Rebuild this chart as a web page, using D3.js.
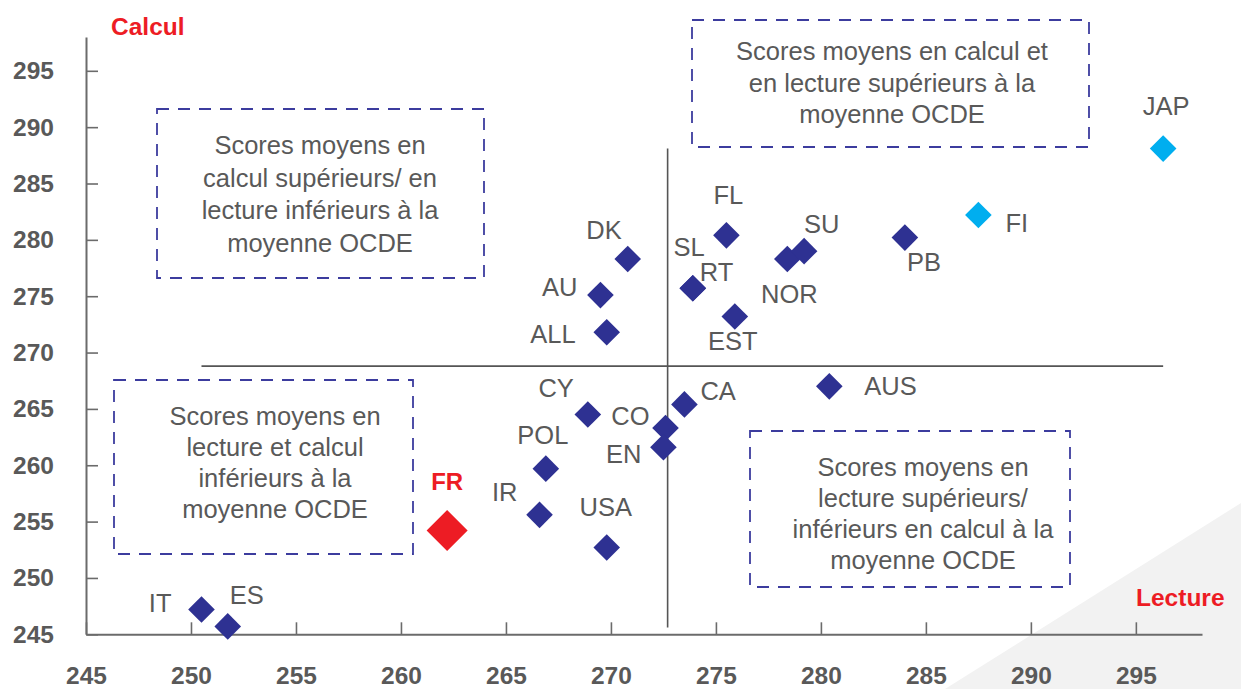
<!DOCTYPE html>
<html>
<head>
<meta charset="utf-8">
<script src="https://cdn.jsdelivr.net/npm/d3@7"></script>
<style>
  html, body { margin: 0; padding: 0; background: #ffffff; }
  svg { display: block; font-family: "Liberation Sans", Arial, Helvetica, sans-serif; }
</style>
</head>
<body>
<svg id="chart" width="1241" height="689"></svg>
<script>
// Mean scores per country: reading (Lecture) vs. mathematics (Calcul)
const countries = ["IT", "ES", "FR", "IR", "POL", "USA", "CY", "CO", "EN", "CA", "DK", "AU", "ALL",
                   "SL", "RT", "FL", "EST", "NOR", "SU", "PB", "FI", "AUS", "JAP"];
const lecture = [250.5, 251.75, 262.2, 266.6, 266.9, 269.8, 268.9, 272.6, 272.5, 273.5, 270.8, 269.5, 269.8,
                 273.9, 273.9, 275.5, 275.9, 278.4, 279.2, 284.0, 287.5, 280.4, 296.3];
const calcul  = [247.2, 245.7, 254.2, 255.6, 259.7, 252.7, 264.5, 263.3, 261.6, 265.4, 278.3, 275.1, 271.8,
                 275.7, 275.7, 280.4, 273.2, 278.3, 279.0, 280.2, 282.2, 267.0, 288.1];
const groups  = ["autre", "autre", "france", "autre", "autre", "autre", "autre", "autre", "autre", "autre", "autre", "autre", "autre",
                 "autre", "autre", "autre", "autre", "autre", "autre", "autre", "tete", "autre", "tete"];

// OECD averages
const moyenneLecture = 272.7;
const moyenneCalcul = 268.8;

// Axis ticks
const ticksLecture = [245, 250, 255, 260, 265, 270, 275, 280, 285, 290, 295];
const ticksCalcul = [245, 250, 255, 260, 265, 270, 275, 280, 285, 290, 295];

// Quadrant captions
const quadrantTexts = [
  ["Scores moyens en calcul et", "en lecture supérieurs à la", "moyenne OCDE"],
  ["Scores moyens en", "calcul supérieurs/ en", "lecture inférieurs à la", "moyenne OCDE"],
  ["Scores moyens en", "lecture et calcul", "inférieurs à la", "moyenne OCDE"],
  ["Scores moyens en", "lecture supérieurs/", "inférieurs en calcul à la", "moyenne OCDE"]
];

// ---- layout & style ----
const quadrantBoxes = [
  { x: 692, y: 20,  w: 397, h: 127, cx: 892, base: 60,  step: 31.7 },
  { x: 157, y: 109, w: 327, h: 169, cx: 320, base: 154, step: 32.5 },
  { x: 114, y: 380, w: 299, h: 174, cx: 275, base: 425, step: 31.1 },
  { x: 750, y: 431, w: 320, h: 156, cx: 923, base: 476, step: 31 }
];

// label placement relative to each marker: [dx, dy, anchor]
const labelPlacement = {
  IT: [-30, 2, "end"], ES: [2, -22, "start"], FR: [0, -41, "middle"], IR: [-22, -14, "end"],
  POL: [-3, -25, "middle"], USA: [-1, -32, "middle"], CY: [-14, -18, "end"], CO: [-16, -3, "end"],
  EN: [-22, 16, "end"], CA: [16, -4, "start"], DK: [-6, -20, "end"], AU: [-23, 1, "end"],
  ALL: [-31, 11, "end"], SL: [12, -32, "end"], RT: [7, -7, "start"], FL: [2, -31, "middle"],
  EST: [-2, 34, "middle"], NOR: [2, 44, "middle"], SU: [0, -18, "start"], PB: [2, 33, "start"],
  FI: [27, 17, "start"], AUS: [35, 9, "start"], JAP: [3, -34, "middle"]
};

const colors = { autre: "#2e3192", france: "#ed1c24", tete: "#00aeef" };
const symbolSizes = { autre: 354, france: 841, tete: 354 };
const textGray = "#595959";

const svg = d3.select("#chart");

// light corner shading at bottom right
svg.append("path")
  .attr("d", "M945,689 L1241,503 L1241,689 Z")
  .attr("fill", "#f2f2f2");

const x = d3.scaleLinear().domain([245, 298.15]).range([86, 1202]);
const y = d3.scaleLinear().domain([245, 298]).range([634.3, 37]);

const data = countries.map((c, i) => ({ pays: c, lecture: lecture[i], calcul: calcul[i], groupe: groups[i] }));

// axes
const xAxis = d3.axisBottom(x).tickValues(ticksLecture).tickFormat(d3.format("d"))
  .tickSizeInner(-12).tickSizeOuter(0).tickPadding(32);
const yAxis = d3.axisLeft(y).tickValues(ticksCalcul).tickFormat(d3.format("d"))
  .tickSizeInner(-12).tickSizeOuter(0).tickPadding(32);

const gx = svg.append("g").attr("transform", `translate(0,${y(245)})`).call(xAxis);
const gy = svg.append("g").attr("transform", `translate(${x(245)},0)`).call(yAxis);

[gx, gy].forEach(g => {
  g.select(".domain").attr("stroke", "#6b6b6b").attr("stroke-width", 2);
  g.selectAll(".tick line").attr("stroke", "#6b6b6b").attr("stroke-width", 1.6);
  g.selectAll(".tick text")
    .attr("fill", textGray)
    .style("font-size", "24.5px")
    .style("font-weight", "bold")
    .style("font-family", "'Liberation Sans', Arial, sans-serif");
});

// OECD average lines, spanning the data extent
const extLecture = d3.extent(lecture);
const extCalcul = d3.extent(calcul);
svg.append("line")
  .attr("x1", x(moyenneLecture)).attr("x2", x(moyenneLecture))
  .attr("y1", y(extCalcul[1])).attr("y2", y(extCalcul[0]) + 1)
  .attr("stroke", "#555").attr("stroke-width", 1.6);
svg.append("line")
  .attr("x1", x(extLecture[0])).attr("x2", x(extLecture[1]))
  .attr("y1", y(moyenneCalcul)).attr("y2", y(moyenneCalcul))
  .attr("stroke", "#555").attr("stroke-width", 1.6);

// quadrant caption boxes
quadrantBoxes.forEach((b, i) => {
  const g = svg.append("g");
  g.append("rect")
    .attr("x", b.x).attr("y", b.y).attr("width", b.w).attr("height", b.h)
    .attr("fill", "none").attr("stroke", "#3c3c9e").attr("stroke-width", 1.8)
    .attr("stroke-dasharray", "12 9");
  g.selectAll("text").data(quadrantTexts[i]).join("text")
    .attr("x", b.cx)
    .attr("y", (d, j) => b.base + j * b.step)
    .attr("text-anchor", "middle")
    .attr("fill", textGray)
    .style("font-size", "25.5px")
    .text(d => d);
});

// markers
const diamond = d3.symbol().type(d3.symbolSquare);
svg.append("g").selectAll("path").data(data).join("path")
  .attr("d", d => diamond.size(symbolSizes[d.groupe])())
  .attr("transform", d => `translate(${x(d.lecture)},${y(d.calcul)}) rotate(45)`)
  .attr("fill", d => colors[d.groupe]);

// country labels
svg.append("g").selectAll("text").data(data).join("text")
  .attr("x", d => x(d.lecture) + labelPlacement[d.pays][0])
  .attr("y", d => y(d.calcul) + labelPlacement[d.pays][1])
  .attr("text-anchor", d => labelPlacement[d.pays][2])
  .attr("fill", d => d.groupe === "france" ? colors.france : textGray)
  .style("font-size", d => d.groupe === "france" ? "24px" : "25.5px")
  .style("font-weight", d => d.groupe === "france" ? "bold" : "normal")
  .text(d => d.pays);

// axis titles
svg.append("text")
  .attr("x", 111).attr("y", 35)
  .attr("fill", "#ed1c24")
  .style("font-size", "24.5px").style("font-weight", "bold")
  .text("Calcul");
svg.append("text")
  .attr("x", 1136).attr("y", 606)
  .attr("fill", "#ed1c24")
  .style("font-size", "24.5px").style("font-weight", "bold")
  .text("Lecture");
</script>
</body>
</html>
